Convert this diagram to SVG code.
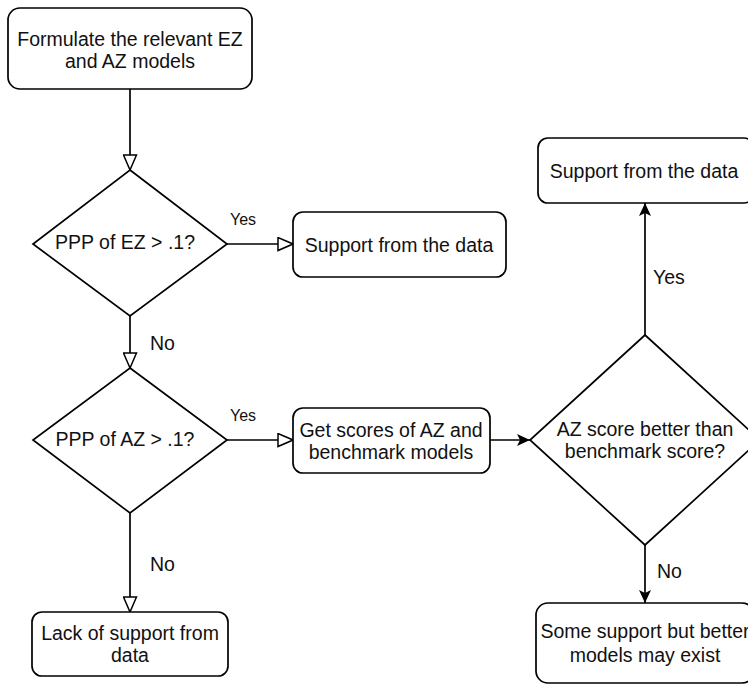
<svg xmlns="http://www.w3.org/2000/svg" width="748" height="686" viewBox="0 0 748 686">
<style>
.s{fill:#fff;stroke:#000;stroke-width:1.7}
.c{fill:none;stroke:#000;stroke-width:1.7}
text{font-family:"Liberation Sans",Arial,Helvetica,sans-serif;font-size:19.5px;fill:#111}
.m{text-anchor:middle}
.l{font-size:16px}
</style>
<defs>
<marker id="open" viewBox="0 0 17 15" refX="16" refY="7.5" markerWidth="17" markerHeight="15" markerUnits="userSpaceOnUse" orient="auto">
<path d="M1,1 L16,7.5 L1,14 Z" fill="#fff" stroke="#000" stroke-width="1.5"/>
</marker>
<marker id="fill" viewBox="0 0 14 12" refX="13" refY="6" markerWidth="14" markerHeight="12" markerUnits="userSpaceOnUse" orient="auto">
<path d="M0,0 L13,6 L0,12 L3,6 Z" fill="#000"/>
</marker>
</defs>
<g id="connectors">
<path class="c" d="M130,89 V170" marker-end="url(#open)"/>
<path class="c" d="M227,244 H293" marker-end="url(#open)"/>
<path class="c" d="M130,316 V368" marker-end="url(#open)"/>
<path class="c" d="M227,440 H293" marker-end="url(#open)"/>
<path class="c" d="M130,513 V612" marker-end="url(#open)"/>
<path class="c" d="M490,440 H530" marker-end="url(#fill)"/>
<path class="c" d="M645,335 V203" marker-end="url(#fill)"/>
<path class="c" d="M645,545 V603" marker-end="url(#fill)"/>
<text class="l" x="230" y="225">Yes</text>
<text x="150" y="350">No</text>
<text class="l" x="230" y="421">Yes</text>
<text x="150" y="571">No</text>
<text x="653" y="284">Yes</text>
<text x="657" y="578">No</text>
</g>
<g id="n1"><rect class="s" x="8" y="8" width="244" height="81" rx="12"/>
<text class="m" x="130" y="46">Formulate the relevant EZ</text>
<text class="m" x="130" y="68">and AZ models</text></g>
<g id="d1"><path class="s" d="M130,170 L227,244 L130,316 L33,244 Z"/>
<text class="m" x="125" y="249">PPP of EZ &gt; .1?</text></g>
<g id="n2"><rect class="s" x="293" y="212" width="213" height="65" rx="10"/>
<text class="m" x="399" y="252">Support from the data</text></g>
<g id="d2"><path class="s" d="M130,368 L227,440 L130,513 L33,440 Z"/>
<text class="m" x="125" y="446">PPP of AZ &gt; .1?</text></g>
<g id="n3"><rect class="s" x="293" y="408" width="197" height="65" rx="10"/>
<text class="m" x="391" y="437">Get scores of AZ and</text>
<text class="m" x="391" y="459">benchmark models</text></g>
<g id="d3"><path class="s" d="M645,335 L760,440 L645,545 L530,440 Z"/>
<text class="m" x="645" y="436">AZ score better than</text>
<text class="m" x="645" y="458">benchmark score?</text></g>
<g id="n4"><rect class="s" x="538" y="138" width="216" height="65" rx="10"/>
<text class="m" x="644" y="178">Support from the data</text></g>
<g id="n5"><rect class="s" x="536" y="603" width="218" height="80" rx="12"/>
<text class="m" x="645" y="638">Some support but better</text>
<text class="m" x="645" y="662">models may exist</text></g>
<g id="n6"><rect class="s" x="32" y="612" width="196" height="64" rx="10"/>
<text class="m" x="130" y="640">Lack of support from</text>
<text class="m" x="130" y="662">data</text></g>
</svg>
